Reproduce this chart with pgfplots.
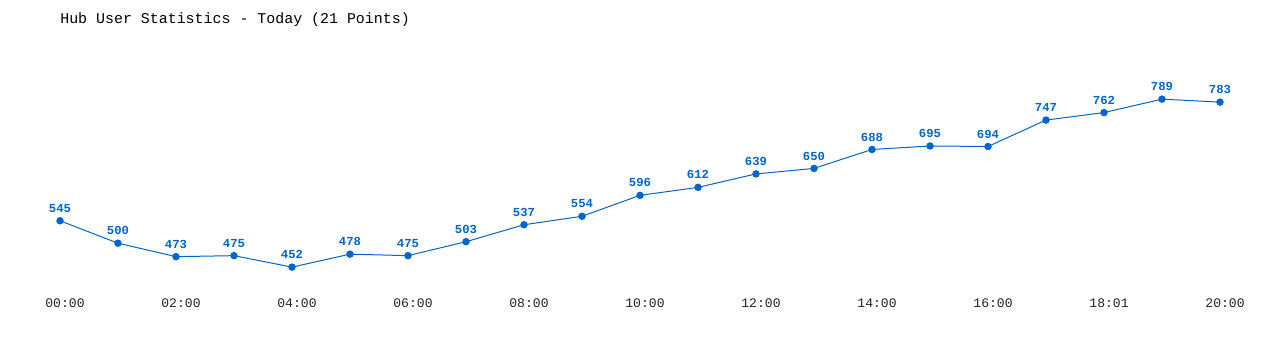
\documentclass[border=0pt]{standalone}
\usepackage{fontspec}
\setmainfont{Liberation Mono}
\usepackage{pgfplots}
\pgfplotsset{compat=1.18}
\definecolor{ptblue}{HTML}{0066CC}
\definecolor{ticktxt}{HTML}{222222}
\begin{document}
\begin{tikzpicture}
\begin{axis}[
  scale only axis,
  width=960pt, height=262.5pt,
  xmin=-1.0345, xmax=21.0345,
  ymin=285.5, ymax=987.6,
  axis line style={draw=none},
  ytick=\empty,
  xtick={0,2,4,6,8,10,12,14,16,18,20},
  xticklabels={00:00,02:00,04:00,06:00,08:00,10:00,12:00,14:00,16:00,18:01,20:00},
  major tick length=0pt,
  xticklabel style={anchor=center, yshift=35.25pt, xshift=3.75pt, font=\fontsize{9.8pt}{10pt}\selectfont, text=ticktxt},
  /pgf/number format/assume math mode=true,
  clip=false,
  nodes near coords,
  every node near coord/.append style={font=\bfseries\fontsize{9.2pt}{10pt}\selectfont, text=ptblue, yshift=2.5pt},
]
\path (rel axis cs:0,0) rectangle (rel axis cs:1,1);
\node[anchor=west, inner sep=0pt, yshift=-1.5pt, font=\fontsize{11.2pt}{12pt}\selectfont, text=black] at (rel axis cs:0.0469,0.9486) {Hub User Statistics - Today (21 Points)};
\addplot[color=ptblue, line width=0.75pt, mark=*, mark size=2.4pt, mark options={fill=ptblue}]
coordinates {
(0,545) (1,500) (2,473) (3,475) (4,452) (5,478) (6,475) (7,503) (8,537) (9,554)
(10,596) (11,612) (12,639) (13,650) (14,688) (15,695) (16,694) (17,747) (18,762) (19,789) (20,783)
};
\end{axis}
\end{tikzpicture}
\end{document}
